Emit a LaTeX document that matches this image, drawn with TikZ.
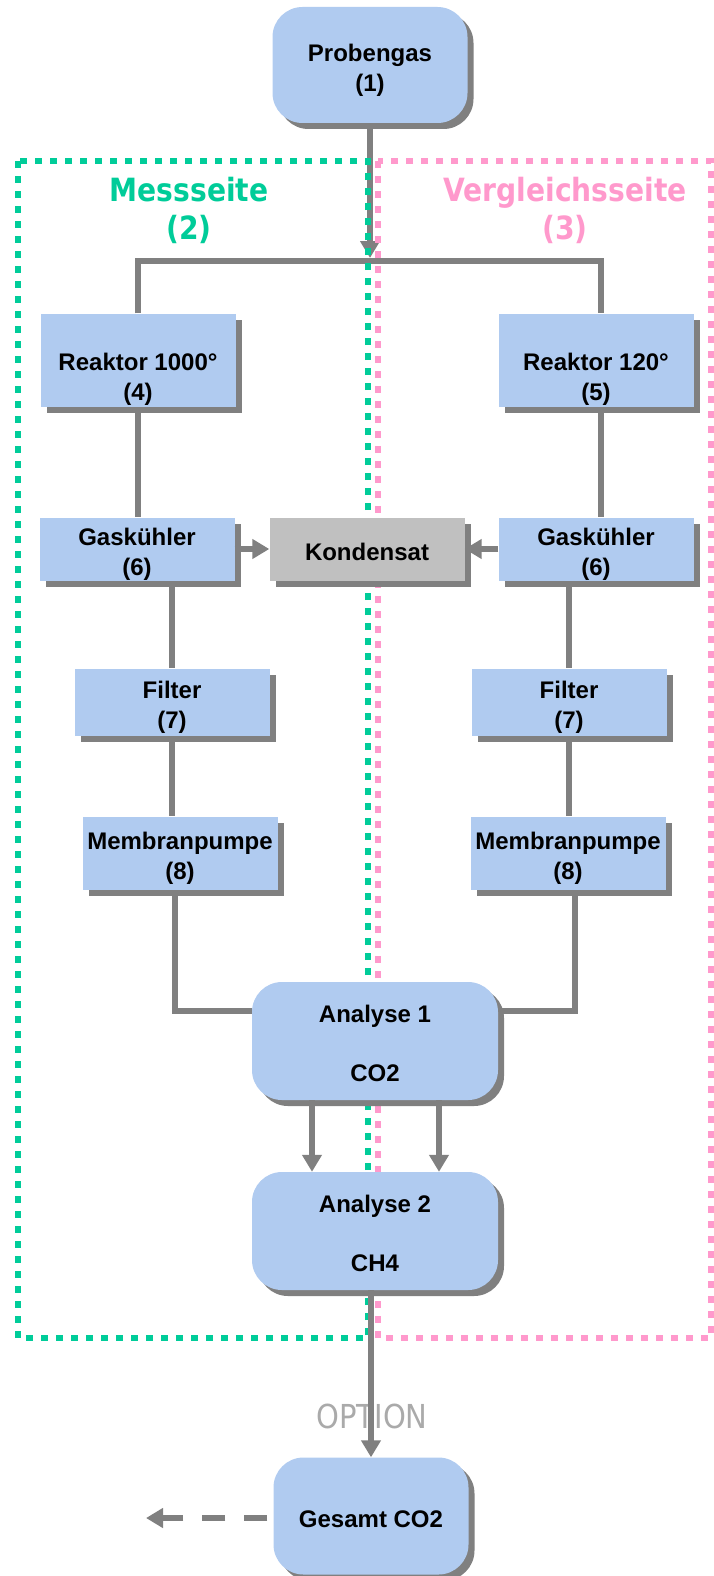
\documentclass[tikz,border=0pt]{standalone}
\usepackage{fontspec}
\setmainfont{Liberation Sans}
\newfontfamily\titlefont[FakeStretch=0.88]{DejaVu Sans}
\usetikzlibrary{arrows.meta,shadows}
\definecolor{boxblue}{RGB}{176,203,240}
\definecolor{linegray}{RGB}{128,128,128}
\definecolor{condgray}{RGB}{192,192,192}
\definecolor{messgreen}{RGB}{0,204,153}
\definecolor{vglpink}{RGB}{255,153,204}
\definecolor{optgray}{RGB}{170,170,170}
\newcommand\boxlines[2][-11.5pt]{\raisebox{#1}[0pt][0pt]{\begin{tabular}{@{}c@{}}#2\end{tabular}}}
\pgfdeclarelayer{pipes}\pgfdeclarelayer{fences}
\pgfsetlayers{pipes,fences,main}

\begin{document}
\begin{tikzpicture}[x=1pt,y=-1pt,font=\fontsize{24}{30}\selectfont\bfseries,
boxshadow/.style={drop shadow={shadow xshift=6pt,shadow yshift=-6pt,fill=linegray,opacity=1}},
flatbox/.style={boxshadow,fill=boxblue,inner sep=0pt,minimum width=195pt,minimum height=#1},
roundbox/.style={boxshadow,fill=boxblue,rounded corners=30pt,inner sep=0pt,minimum width=195pt,minimum height=116pt},
conn/.style={draw=linegray,line width=6pt},
flowarrow/.style={conn,-{Triangle[width=19pt,length=17pt]}},
fence/.style={line width=6.5pt,dash pattern=on 7pt off 8pt},
sidetitle/.style={align=center,font=\titlefont\fontsize{32}{38}\selectfont\bfseries}]
\useasboundingbox(0,0)rectangle(713,1576);
\begin{pgfonlayer}{fences}
\draw[fence,vglpink](378,161)rectangle(711,1338);
\draw[fence,messgreen](18,161)rectangle(368,1338);
\end{pgfonlayer}
\node[sidetitle,messgreen](mess)at(189,210){Messseite\\(2)};
\node[sidetitle,vglpink](vgl)at(565,210){Vergleichsseite\\(3)};
\node[roundbox](pg)at(370,65){\boxlines{Probengas\\(1)}};
\node[flatbox=93](r4)at(138,360){\boxlines[-25.5pt]{Reaktor 1000°\\(4)}};
\node[flatbox=93](r5)at(596,360){\boxlines[-25.5pt]{Reaktor 120°\\(5)}};
\node[flatbox=63](gl)at(137,549){\boxlines{Gaskühler\\(6)}};
\node[flatbox=63,fill=condgray](kd)at(367,549){\boxlines{Kondensat}};
\node[flatbox=63](gr)at(596,549){\boxlines{Gaskühler\\(6)}};
\node[flatbox=67](fl)at(172,702){\boxlines{Filter\\(7)}};\node[flatbox=67](fr)at(569,702){\boxlines{Filter\\(7)}};
\node[flatbox=73](ml)at(180,853){\boxlines{Membranpumpe\\(8)}};\node[flatbox=73](mr)at(568,853){\boxlines{Membranpumpe\\(8)}};
\node[roundbox,minimum width=246pt,minimum height=118pt](a1)at(375,1041){\boxlines{Analyse 1\\[29pt]CO2}};
\node[roundbox,minimum width=246pt,minimum height=118pt](a2)at(375,1231){\boxlines{Analyse 2\\[29pt]CH4}};
\node[optgray,font=\titlefont\fontsize{33}{33}\selectfont](opt)at(372,1416){OPTION};
\node[roundbox,minimum height=117pt](gs)at(371,1516){\boxlines{Gesamt CO2}};
\coordinate(split)at(370,261);\coordinate(out)at(146,1518);
\begin{pgfonlayer}{pipes}
\draw[flowarrow](pg)--([yshift=3pt]split);
\draw[conn](r4.north)|-(split)-|([xshift=5pt]r5.north);
\draw[conn](r4.south)--(r4.south|-gl.north);\draw[conn]([xshift=5pt]r5.south)--([xshift=5pt]r5.south|-gr.north);
\draw[conn](fl.north|-gl.south)--(fl.north);\draw[conn](fr.north|-gr.south)--(fr.north);
\draw[conn](fl.south)--(fl.south|-ml.north);\draw[conn](fr.south)--(fr.south|-mr.north);
\draw[conn]([xshift=-5pt]ml.south)|-([yshift=30pt]a1.west);\draw[conn]([xshift=7pt]mr.south)|-([yshift=30pt]a1.east);
\end{pgfonlayer}
\draw[flowarrow](gl)--(kd);\draw[flowarrow](gr)--(kd);
\draw[flowarrow]([xshift=-63pt]a1.south)--([xshift=-63pt]a2.north);\draw[flowarrow]([xshift=64pt]a1.south)--([xshift=64pt]a2.north);
\draw[flowarrow](gs.north|-a2.south)--(gs.north);
\draw[flowarrow,dash pattern=on 23pt off 19pt]([xshift=-6pt,yshift=-2pt]gs.west)--(out);
\end{tikzpicture}
\end{document}
